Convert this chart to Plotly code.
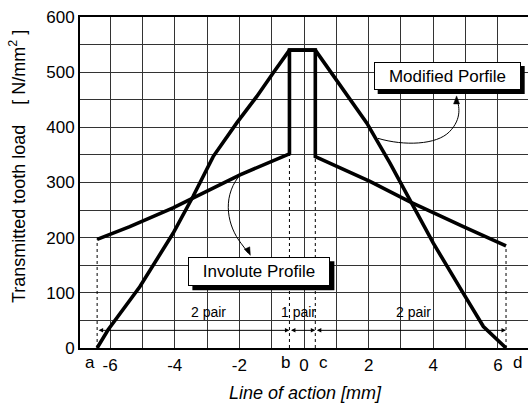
import plotly.graph_objects as go

# ---------------- data ----------------
# contact boundaries on the line of action [mm]
pos_a = -6.4
pos_b = -0.45
pos_c = 0.35
pos_d = 6.25

modified_x = [pos_a, -6.06, -5.08, -4.05, -3.43, -2.81, -2.08, -1.46, -0.95, pos_b,
              pos_c, 1.01, 1.94, 2.66, 3.28, 4.0, 4.93, 5.55, pos_d]
modified_y = [0, 33, 111, 208, 275, 347, 408, 456, 499, 540,
              540, 486, 408, 335, 269, 190, 99, 39, 0]

involute_x = [pos_a, -5.39, -4.05, -3.43, -1.98, pos_b, pos_b, pos_c, pos_c,
              2.04, 3.28, 4.93, pos_d]
involute_y = [197, 220, 254, 272, 314, 352, 540, 540, 347,
              302, 265, 220, 185]

x_tick_vals = [-6, -4, -2, 0, 2, 4, 6]
x_tick_text = ["-6", "-4", "-2", "0", "2", "4", "6"]
y_tick_vals = [0, 100, 200, 300, 400, 500, 600]

boundary_names = ["a", "b", "c", "d"]
boundary_pos = [pos_a, pos_b, pos_c, pos_d]
boundary_load = [197, 352, 347, 185]

pair_labels = ["2 pair", "1 pair", "2 pair"]

# ---------------- figure ----------------
FONT = "Liberation Sans, Arial, sans-serif"
fig = go.Figure()

# dotted boundary lines
for xv, yv in zip(boundary_pos, boundary_load):
    fig.add_trace(go.Scatter(x=[xv, xv], y=[0, yv], mode="lines",
                             line=dict(color="black", width=1, dash="dot"),
                             hoverinfo="skip", showlegend=False))

fig.add_trace(go.Scatter(x=involute_x, y=involute_y, mode="lines",
                         line=dict(color="black", width=3.6),
                         name="Involute Profile", showlegend=False))
fig.add_trace(go.Scatter(x=modified_x, y=modified_y, mode="lines",
                         line=dict(color="black", width=3.6),
                         name="Modified Profile", showlegend=False))

annotations = []
shapes = []

# boundary letters on the axis
letter_shift = [-7, -4, 8, 11]
for name, xv, sh in zip(boundary_names, boundary_pos, letter_shift):
    annotations.append(dict(x=xv, y=-0.045, xref="x", yref="paper", text=name,
                            showarrow=False, xshift=sh, yanchor="middle",
                            font=dict(family=FONT, size=17, color="black")))

# dimension arrows and pair labels
dim_y = 32
segs = [(pos_a, pos_b), (pos_b, pos_c), (pos_c, pos_d)]
label_x = [-2.96, -0.18, 3.39]
for (x0, x1), lab, lx in zip(segs, pair_labels, label_x):
    annotations.append(dict(x=x1, y=dim_y, ax=x0, ay=dim_y, xref="x", yref="y",
                            axref="x", ayref="y", text="", showarrow=True,
                            arrowhead=2, arrowside="end+start", arrowsize=0.9,
                            arrowwidth=1, arrowcolor="black",
                            startarrowhead=2, startarrowsize=0.9))
    annotations.append(dict(x=lx, y=66, xref="x", yref="y", text=lab,
                            showarrow=False,
                            font=dict(family=FONT, size=14, color="black")))

# callout boxes with shadows (shadow drawn as pixel-sized rectangle)
def boxed(text, x, y, w, h, off=4):
    tw, th = w + 2, h + 2
    shapes.append(dict(type="rect", xref="x", yref="y",
                       xsizemode="pixel", ysizemode="pixel",
                       xanchor=x, yanchor=y,
                       x0=-tw / 2 + off, x1=tw / 2 + off,
                       y0=-th / 2 - off, y1=th / 2 - off,
                       fillcolor="black", line=dict(color="black", width=0)))
    annotations.append(dict(x=x, y=y, xref="x", yref="y", text=text, showarrow=False,
                            width=w, height=h, bgcolor="white", bordercolor="black",
                            borderwidth=1, borderpad=0,
                            font=dict(family=FONT, size=17, color="black")))

boxed("Modified Porfile", 4.43, 493, 145, 26)
boxed("Involute Profile", -1.38, 138, 140, 27)

# callout connectors
shapes += [
    dict(type="path", xref="x", yref="y",
         path="M 2.29,380 C 3.1,366 4.1,368 4.5,392 S 4.8,440 4.72,452",
         line=dict(color="black", width=1)),
    dict(type="path", xref="x", yref="y",
         path="M -2.03,310 C -2.55,270 -2.35,220 -1.95,190 L -1.72,172",
         line=dict(color="black", width=1)),
]
# arrow tips (small triangles sized in pixels)
shapes.append(dict(type="path", xref="x", yref="y", xsizemode="pixel", ysizemode="pixel",
                   xanchor=4.72, yanchor=457, path="M 0,0 L -3,-8 L 3,-8 Z",
                   fillcolor="black", line=dict(color="black", width=0.5)))
shapes.append(dict(type="path", xref="x", yref="y", xsizemode="pixel", ysizemode="pixel",
                   xanchor=-1.66, yanchor=168, path="M 0,0 L -0.6,8.5 L -6,6 Z",
                   fillcolor="black", line=dict(color="black", width=0.5)))

# axis titles
annotations.append(dict(x=0.504, y=-0.136, xref="paper", yref="paper",
                        text="<i>Line of action [mm]</i>", showarrow=False,
                        xanchor="center", yanchor="middle",
                        font=dict(family=FONT, size=18, color="black")))
annotations.append(dict(x=-0.138, y=0.547, xref="paper", yref="paper",
                        text="Transmitted tooth load\u00a0\u00a0\u00a0\u00a0[ N/mm<sup>2</sup> ]",
                        showarrow=False, textangle=-90,
                        xanchor="center", yanchor="middle",
                        font=dict(family=FONT, size=18, color="black")))

grid_col = "#333"
fig.update_layout(
    width=528, height=410,
    margin=dict(l=80, r=0, t=17, b=62),
    paper_bgcolor="white", plot_bgcolor="white",
    font=dict(family=FONT, size=17, color="black"),
    showlegend=False,
    annotations=annotations,
    shapes=shapes,
    xaxis=dict(range=[-6.93, 6.93], tickvals=x_tick_vals, ticktext=x_tick_text,
               showgrid=True, gridcolor=grid_col, gridwidth=1,
               minor=dict(dtick=1, tick0=0, showgrid=True, gridcolor=grid_col, gridwidth=1),
               showline=True, linecolor="black", linewidth=2, mirror=True,
               zeroline=False, ticks="", ticklabelstandoff=1,
               tickfont=dict(family=FONT, size=17, color="black")),
    yaxis=dict(range=[0, 600], tickvals=y_tick_vals,
               showgrid=True, gridcolor=grid_col, gridwidth=1,
               minor=dict(dtick=50, tick0=0, showgrid=True, gridcolor=grid_col, gridwidth=1),
               showline=True, linecolor="black", linewidth=2,
               zeroline=False, ticks="", ticklabelstandoff=0,
               tickfont=dict(family=FONT, size=17, color="black")),
)

fig.write_html("out.html")
